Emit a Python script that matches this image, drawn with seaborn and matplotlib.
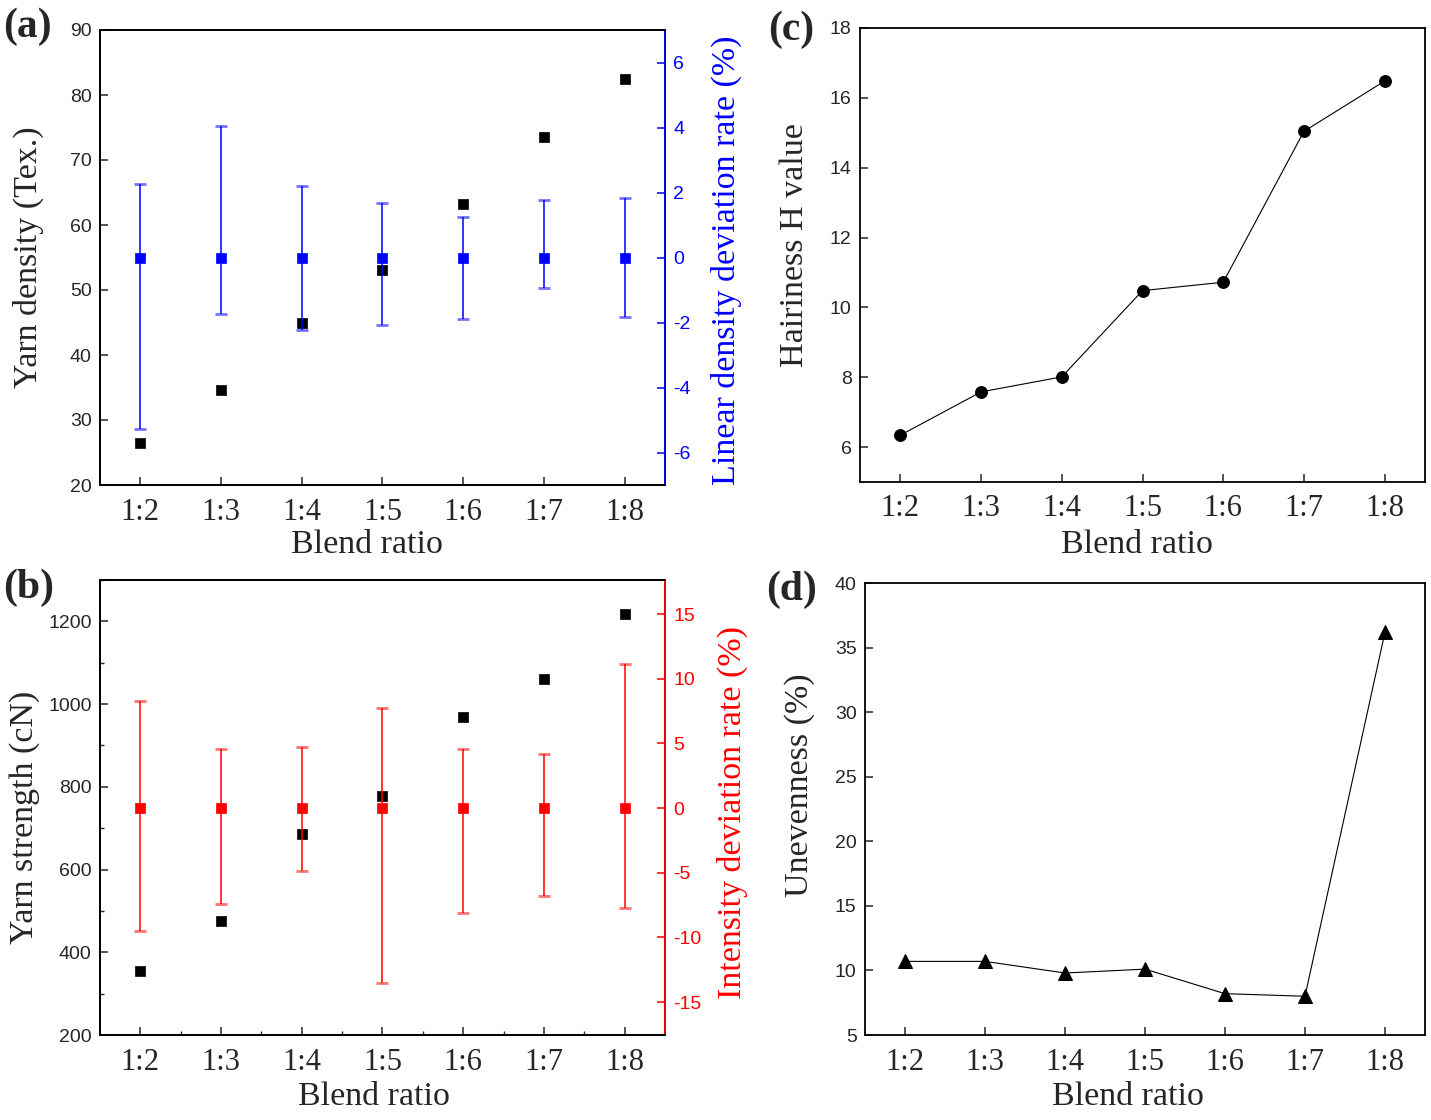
import numpy as np
import matplotlib
matplotlib.use("Agg")
import matplotlib.pyplot as plt
from matplotlib.ticker import MultipleLocator, FixedLocator
import seaborn as sns

# ---------------- data ----------------
ratios = ['1:2', '1:3', '1:4', '1:5', '1:6', '1:7', '1:8']

yarn_density = [26.4, 34.6, 45.0, 53.1, 63.2, 73.6, 82.5]          # Tex
lin_dev_center = [0, 0, 0, 0, 0, 0, 0]                               # %
lin_dev_upper = [2.27, 4.04, 2.21, 1.69, 1.26, 1.76, 1.82]           # %
lin_dev_lower = [5.29, 1.75, 2.22, 2.07, 1.90, 0.94, 1.82]           # %

yarn_strength = [355, 476, 687, 779, 970, 1060, 1219]                # cN
int_dev_center = [0, 0, 0, 0, 0, 0, 0]                               # %
int_dev_upper = [8.3, 4.6, 4.7, 7.7, 4.6, 4.2, 11.1]                 # %
int_dev_lower = [9.5, 7.4, 4.9, 13.5, 8.1, 6.8, 7.7]                 # %

hairiness = [6.34, 7.58, 8.01, 10.48, 10.72, 15.04, 16.48]
unevenness = [10.7, 10.7, 9.8, 10.1, 8.2, 8.0, 36.2]

# ---------------- style ----------------
sns.set_style("ticks")
plt.rcParams['font.family'] = ['Liberation Serif', 'DejaVu Serif']
plt.rcParams['axes.linewidth'] = 1.3
plt.rcParams['axes.unicode_minus'] = False

W, H = 1431, 1120
fig = plt.figure(figsize=(W / 100, H / 100), dpi=100)

def rect(l, t, r, b):
    return [l / W, 1 - b / H, (r - l) / W, (b - t) / H]

pos = np.arange(len(ratios))

NUM_FS = 14
CAT_FS = 22
LAB_FS = 24.5
SANS = 'Liberation Sans'

def style_axis(ax, ylim, major, minor=None, xminor=False):
    ax.set_xlim(-0.5, len(ratios) - 0.5)
    ax.set_ylim(*ylim)
    ax.xaxis.set_major_locator(FixedLocator(pos))
    ax.set_xticklabels(ratios)
    if xminor:
        ax.xaxis.set_minor_locator(FixedLocator(pos[:-1] + 0.5))
    ax.yaxis.set_major_locator(MultipleLocator(major))
    if minor:
        ax.yaxis.set_minor_locator(MultipleLocator(minor))
    ax.tick_params(axis='both', which='major', direction='in', length=6, width=1.1)
    ax.tick_params(axis='both', which='minor', direction='in', length=3, width=1.0)
    ax.tick_params(axis='x', labelsize=CAT_FS, pad=9)
    ax.tick_params(axis='y', labelsize=NUM_FS, pad=6, labelfontfamily=SANS)
    for s in ax.spines.values():
        s.set_visible(True)
        s.set_color('black')
        s.set_linewidth(1.3)
    ax.set_xlabel('')
    ax.set_ylabel('')

def set_labels(ax, xlabel, ylabel, xc, xy, yx, yy):
    ax.set_xlabel(xlabel, fontsize=LAB_FS, va='center', ha='center')
    ax.xaxis.set_label_coords(xc, xy)
    ax.set_ylabel(ylabel, fontsize=LAB_FS, va='center', ha='center')
    ax.yaxis.set_label_coords(yx, yy)

def twin_errors(ax, color, center, lower, upper, ylim, major, label, lx, ly):
    tw = ax.twinx()
    eb = tw.errorbar(pos, center, yerr=[lower, upper], fmt='none', ecolor=color,
                     elinewidth=1.1, capsize=4.5, capthick=2.0)
    for c in eb[1]:
        c.set_alpha(0.55)
    sns.scatterplot(x=pos, y=center, marker='s', s=52, color=color,
                    edgecolor=color, linewidth=0.5, ax=tw, zorder=5)
    tw.set_ylim(*ylim)
    tw.yaxis.set_major_locator(MultipleLocator(major))
    tw.tick_params(axis='y', which='major', direction='in', length=6, width=1.1,
                   colors=color, labelsize=NUM_FS, pad=6, labelfontfamily=SANS)
    for name, s in tw.spines.items():
        s.set_visible(True)
        s.set_linewidth(1.3)
        s.set_color(color if name == 'right' else 'black')
    tw.set_ylabel(label, fontsize=LAB_FS, color=color, va='center', ha='center')
    tw.yaxis.set_label_coords(lx, ly)
    return tw

# ---------------- (a) ----------------
axa = fig.add_axes(rect(100, 30, 665, 485))
sns.scatterplot(x=pos, y=yarn_density, marker='s', s=52, color='black',
                edgecolor='black', linewidth=0.5, ax=axa, zorder=3)
style_axis(axa, (20, 90), 10)
set_labels(axa, 'Blend ratio', 'Yarn density (Tex.)', 0.473, -0.132, -0.127, 0.50)
twin_errors(axa, 'blue', lin_dev_center, lin_dev_lower, lin_dev_upper, (-7, 7), 2,
            'Linear density deviation rate (%)', 1.108, 0.495)

# ---------------- (b) ----------------
axb = fig.add_axes(rect(100, 580, 665, 1035))
sns.scatterplot(x=pos, y=yarn_strength, marker='s', s=52, color='black',
                edgecolor='black', linewidth=0.5, ax=axb, zorder=3)
style_axis(axb, (200, 1300), 200, minor=100, xminor=True)
set_labels(axb, 'Blend ratio', 'Yarn strength (cN)', 0.485, -0.136, -0.133, 0.479)
twin_errors(axb, 'red', int_dev_center, int_dev_lower, int_dev_upper, (-17.55, 17.63), 5,
            'Intensity deviation rate (%)', 1.12, 0.49)

# ---------------- (c) ----------------
axc = fig.add_axes(rect(860, 28, 1425, 482))
sns.lineplot(x=pos, y=hairiness, color='black', linewidth=0.8, marker='o',
             markersize=8.5, markeredgecolor='black', ax=axc)
style_axis(axc, (5, 18), 2)
axc.yaxis.set_major_locator(FixedLocator([6, 8, 10, 12, 14, 16, 18]))
set_labels(axc, 'Blend ratio', 'Hairiness H value', 0.49, -0.139, -0.115, 0.522)

# ---------------- (d) ----------------
axd = fig.add_axes(rect(865, 583, 1425, 1035))
sns.lineplot(x=pos, y=unevenness, color='black', linewidth=0.8, marker='^',
             markersize=10, markeredgecolor='black', ax=axd)
style_axis(axd, (5, 40), 5)
set_labels(axd, 'Blend ratio', 'Unevenness (%)', 0.47, -0.137, -0.116, 0.553)

# ---------------- panel letters ----------------
for txt, x, y in [('(a)', 3, 27), ('(b)', 3, 588), ('(c)', 768, 30), ('(d)', 766, 590)]:
    fig.text(x / W, 1 - y / H, txt, fontsize=30, fontweight='bold',
             ha='left', va='center')

fig.savefig('out.png', dpi=100)
